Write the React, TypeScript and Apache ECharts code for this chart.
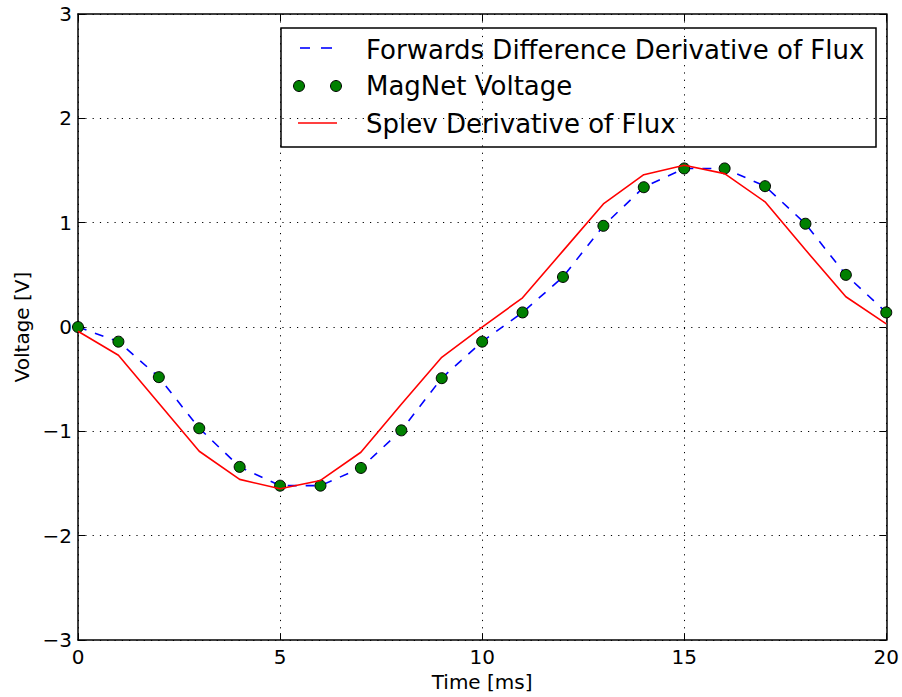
import React, { useEffect, useRef } from "react";
import * as echarts from "echarts";

// Time axis (ms)
const timeMs = [0, 1, 2, 3, 4, 5, 6, 7, 8, 9, 10, 11, 12, 13, 14, 15, 16, 17, 18, 19, 20];
// Forwards difference derivative of flux (V)
const forwardsDiff = [0, -0.14, -0.48, -0.97, -1.34, -1.52, -1.52, -1.35, -0.99, -0.49, -0.14, 0.14, 0.48, 0.97, 1.34, 1.52, 1.52, 1.35, 0.99, 0.5, 0.14];
// MagNet voltage (V)
const magnetVoltage = [0, -0.14, -0.48, -0.97, -1.34, -1.52, -1.52, -1.35, -0.99, -0.49, -0.14, 0.14, 0.48, 0.97, 1.34, 1.52, 1.52, 1.35, 0.99, 0.5, 0.14];
// Splev derivative of flux (V)
const splevDeriv = [-0.04, -0.27, -0.73, -1.19, -1.46, -1.55, -1.47, -1.2, -0.74, -0.29, 0.0, 0.28, 0.73, 1.18, 1.46, 1.55, 1.47, 1.2, 0.74, 0.29, 0.03];

const legendLabels = [
  "Forwards Difference Derivative of Flux",
  "MagNet Voltage",
  "Splev Derivative of Flux",
];

const FONT = "DejaVu Sans";
const fmtMinus = (v: number) => (v < 0 ? "\u2212" + Math.abs(v) : String(v));

export default function App() {
  const ref = useRef<HTMLDivElement>(null);
  useEffect(() => {
    if (!ref.current) return;
    const chart = echarts.init(ref.current, null, { renderer: "svg" });
    const pairs = (ys: number[]) => timeMs.map((t, i) => [t, ys[i]]);
    const tickStyle = { show: true, inside: true, length: 7, lineStyle: { color: "#000", width: 1 } };
    const axisLine = { show: true, onZero: false, lineStyle: { color: "#000", width: 1.5 } };
    const gridLine = { show: true, lineStyle: { color: "#000", width: 1, type: [1.2, 6.1] as any } };
    const label = { color: "#000", fontSize: 20, fontFamily: FONT };
    chart.setOption({
      animation: false,
      backgroundColor: "#fff",
      grid: { left: 78, right: 14, top: 14, bottom: 56, containLabel: false },
      xAxis: [
        {
          type: "value",
          min: 0,
          max: 20,
          interval: 5,
          position: "bottom",
          name: "Time [ms]",
          nameLocation: "middle",
          nameGap: 31,
          nameTextStyle: { color: "#000", fontSize: 20, fontFamily: FONT },
          axisLine,
          axisTick: tickStyle,
          axisLabel: { ...label, margin: 7, formatter: fmtMinus },
          splitLine: gridLine,
        },
        {
          type: "value",
          min: 0,
          max: 20,
          interval: 5,
          position: "top",
          axisLine,
          axisTick: tickStyle,
          axisLabel: { show: false },
          splitLine: { show: false },
        },
      ],
      yAxis: [
        {
          type: "value",
          min: -3,
          max: 3,
          interval: 1,
          position: "left",
          name: "Voltage [V]",
          nameLocation: "middle",
          nameGap: 45,
          nameTextStyle: { color: "#000", fontSize: 20, fontFamily: FONT },
          axisLine,
          axisTick: tickStyle,
          axisLabel: { ...label, margin: 6, formatter: fmtMinus },
          splitLine: gridLine,
        },
        {
          type: "value",
          min: -3,
          max: 3,
          interval: 1,
          position: "right",
          axisLine,
          axisTick: tickStyle,
          axisLabel: { show: false },
          splitLine: { show: false },
        },
      ],
      series: [
        {
          name: legendLabels[0],
          type: "line",
          data: pairs(forwardsDiff),
          showSymbol: false,
          symbol: "none",
          lineStyle: { color: "#0000ff", width: 1.6, type: [9, 9] as any },
          itemStyle: { color: "#0000ff" },
          z: 2,
        },
        {
          name: legendLabels[1],
          type: "scatter",
          data: pairs(magnetVoltage),
          symbol: "circle",
          symbolSize: 11,
          itemStyle: { color: "#008000", borderColor: "#000", borderWidth: 1, opacity: 1 },
          z: 3,
        },
        {
          name: legendLabels[2],
          type: "line",
          data: pairs(splevDeriv),
          showSymbol: false,
          symbol: "none",
          lineStyle: { color: "#ff0000", width: 1.6 },
          itemStyle: { color: "#ff0000" },
          z: 4,
        },
      ],
      graphic: [
        {
          type: "group",
          z: 100,
          children: [
            {
              type: "rect",
              shape: { x: 281, y: 28, width: 595, height: 119 },
              style: { fill: "#fff", stroke: "#000", lineWidth: 1.5 },
            },
            { type: "line", shape: { x1: 300, y1: 48, x2: 310, y2: 48 }, style: { stroke: "#0000ff", lineWidth: 1.6 } },
            { type: "line", shape: { x1: 321, y1: 48, x2: 332, y2: 48 }, style: { stroke: "#0000ff", lineWidth: 1.6 } },
            { type: "circle", shape: { cx: 299, cy: 86, r: 5.5 }, style: { fill: "#008000", stroke: "#000", lineWidth: 1 } },
            { type: "circle", shape: { cx: 336, cy: 86, r: 5.5 }, style: { fill: "#008000", stroke: "#000", lineWidth: 1 } },
            { type: "line", shape: { x1: 298, y1: 123, x2: 337, y2: 123 }, style: { stroke: "#ff0000", lineWidth: 1.6 } },
            ...legendLabels.map((t, i) => ({
              type: "text",
              x: 366,
              y: [49.6, 86.3, 123.6][i],
              style: { text: t, fill: "#000", font: `26px "${FONT}"`, textVerticalAlign: "middle", verticalAlign: "middle" },
            })),
          ],
        },
      ],
    });
    return () => chart.dispose();
  }, []);
  return <div ref={ref} style={{ width: 902, height: 697, position: "absolute", left: 0, top: 0 }} />;
}
